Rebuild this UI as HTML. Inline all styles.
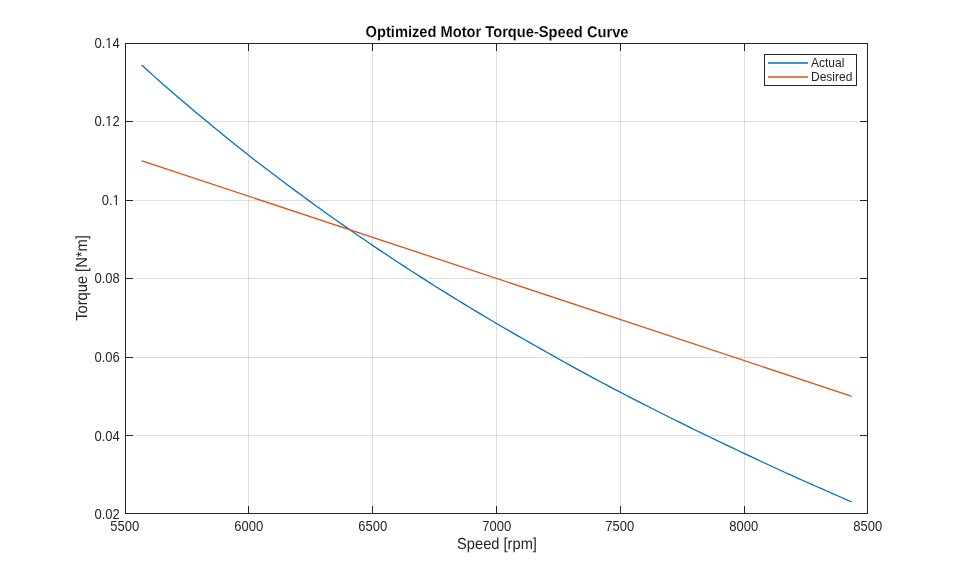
<!DOCTYPE html>
<html><head><meta charset="utf-8"><title>Optimized Motor Torque-Speed Curve</title>
<style>
html,body{margin:0;padding:0;background:#fff;}
body{width:959px;height:577px;overflow:hidden;font-family:"Liberation Sans",sans-serif;}
svg{display:block;}
text{font-family:"Liberation Sans",sans-serif;fill:#262626;}
.tk{font-size:14px;}
.lb{font-size:14.67px;}
.lg{font-size:12px;}
.tt{font-size:14.67px;font-weight:bold;fill:#000;stroke:#fff;stroke-width:0.1px;}
</style></head><body>
<svg width="959" height="577" viewBox="0 0 959 577" style="will-change:transform">
<rect x="0" y="0" width="959" height="577" fill="#ffffff"/>
<g stroke="#262626" stroke-opacity="0.15" stroke-width="1" shape-rendering="crispEdges">
<line x1="248.5" y1="44" x2="248.5" y2="513"/>
<line x1="372.5" y1="44" x2="372.5" y2="513"/>
<line x1="496.5" y1="44" x2="496.5" y2="513"/>
<line x1="620.5" y1="44" x2="620.5" y2="513"/>
<line x1="744.5" y1="44" x2="744.5" y2="513"/>
<line x1="126" y1="121.5" x2="867" y2="121.5"/>
<line x1="126" y1="200.5" x2="867" y2="200.5"/>
<line x1="126" y1="278.5" x2="867" y2="278.5"/>
<line x1="126" y1="357.5" x2="867" y2="357.5"/>
<line x1="126" y1="435.5" x2="867" y2="435.5"/>
</g>
<path d="M142.00,65.32 L147.96,70.78 L153.92,76.14 L159.88,81.44 L165.84,86.67 L171.80,91.85 L177.76,96.98 L183.72,102.07 L189.68,107.12 L195.64,112.13 L201.60,117.11 L207.56,122.07 L213.52,126.99 L219.48,131.87 L225.44,136.72 L231.39,141.54 L237.35,146.32 L243.31,151.07 L249.27,155.77 L255.23,160.40 L261.19,164.99 L267.15,169.56 L273.11,174.09 L279.07,178.58 L285.03,183.05 L290.99,187.48 L296.95,191.88 L302.91,196.26 L308.87,200.62 L314.83,204.95 L320.79,209.25 L326.75,213.52 L332.71,217.76 L338.67,221.97 L344.63,226.14 L350.59,230.29 L356.55,234.41 L362.51,238.50 L368.47,242.56 L374.43,246.60 L380.39,250.60 L386.35,254.58 L392.31,258.53 L398.27,262.45 L404.23,266.35 L410.18,270.22 L416.14,274.06 L422.10,277.88 L428.06,281.67 L434.02,285.44 L439.98,289.18 L445.94,292.89 L451.90,296.58 L457.86,300.25 L463.82,303.89 L469.78,307.50 L475.74,311.10 L481.70,314.67 L487.66,318.22 L493.62,321.74 L499.58,325.24 L505.54,328.72 L511.50,332.18 L517.46,335.61 L523.42,339.03 L529.38,342.42 L535.34,345.79 L541.30,349.15 L547.26,352.53 L553.22,355.88 L559.18,359.22 L565.14,362.54 L571.10,365.83 L577.06,369.11 L583.02,372.37 L588.97,375.61 L594.93,378.83 L600.89,382.03 L606.85,385.18 L612.81,388.31 L618.77,391.42 L624.73,394.51 L630.69,397.59 L636.65,400.66 L642.61,403.70 L648.57,406.73 L654.53,409.75 L660.49,412.75 L666.45,415.74 L672.41,418.71 L678.37,421.67 L684.33,424.61 L690.29,427.55 L696.25,430.46 L702.21,433.37 L708.17,436.26 L714.13,439.14 L720.09,442.00 L726.05,444.86 L732.01,447.70 L737.97,450.53 L743.93,453.35 L749.89,456.15 L755.85,458.94 L761.81,461.72 L767.76,464.49 L773.72,467.25 L779.68,470.00 L785.64,472.73 L791.60,475.40 L797.56,478.06 L803.52,480.72 L809.48,483.36 L815.44,486.00 L821.40,488.63 L827.36,491.26 L833.32,493.89 L839.28,496.51 L845.24,499.13 L851.20,501.74" fill="none" stroke="#0072bd" stroke-width="1.3" stroke-linejoin="round" stroke-linecap="round"/>
<path d="M142,160.8 L851.2,396.07" fill="none" stroke="#d95319" stroke-width="1.3" stroke-linecap="round"/>
<g stroke="#262626" stroke-width="1" fill="none" shape-rendering="crispEdges">
<rect x="125.5" y="43.5" width="742" height="470"/>
<line x1="248.5" y1="513" x2="248.5" y2="506"/><line x1="248.5" y1="44" x2="248.5" y2="51"/>
<line x1="372.5" y1="513" x2="372.5" y2="506"/><line x1="372.5" y1="44" x2="372.5" y2="51"/>
<line x1="496.5" y1="513" x2="496.5" y2="506"/><line x1="496.5" y1="44" x2="496.5" y2="51"/>
<line x1="620.5" y1="513" x2="620.5" y2="506"/><line x1="620.5" y1="44" x2="620.5" y2="51"/>
<line x1="744.5" y1="513" x2="744.5" y2="506"/><line x1="744.5" y1="44" x2="744.5" y2="51"/>
<line x1="126" y1="121.5" x2="133" y2="121.5"/><line x1="867" y1="121.5" x2="860" y2="121.5"/>
<line x1="126" y1="200.5" x2="133" y2="200.5"/><line x1="867" y1="200.5" x2="860" y2="200.5"/>
<line x1="126" y1="278.5" x2="133" y2="278.5"/><line x1="867" y1="278.5" x2="860" y2="278.5"/>
<line x1="126" y1="357.5" x2="133" y2="357.5"/><line x1="867" y1="357.5" x2="860" y2="357.5"/>
<line x1="126" y1="435.5" x2="133" y2="435.5"/><line x1="867" y1="435.5" x2="860" y2="435.5"/>
</g>
<text class="tk" transform="translate(124.8,531) scale(0.93,1)" text-anchor="middle">5500</text>
<text class="tk" transform="translate(248.8,531) scale(0.93,1)" text-anchor="middle">6000</text>
<text class="tk" transform="translate(372.8,531) scale(0.93,1)" text-anchor="middle">6500</text>
<text class="tk" transform="translate(496.8,531) scale(0.93,1)" text-anchor="middle">7000</text>
<text class="tk" transform="translate(619.8,531) scale(0.93,1)" text-anchor="middle">7500</text>
<text class="tk" transform="translate(743.8,531) scale(0.93,1)" text-anchor="middle">8000</text>
<text class="tk" transform="translate(867.8,531) scale(0.93,1)" text-anchor="middle">8500</text>
<text class="tk" transform="translate(119.8,48) scale(0.93,1)" text-anchor="end">0.14</text>
<text class="tk" transform="translate(119.8,126) scale(0.93,1)" text-anchor="end">0.12</text>
<text class="tk" transform="translate(119.8,205) scale(0.93,1)" text-anchor="end">0.1</text>
<text class="tk" transform="translate(119.8,283) scale(0.93,1)" text-anchor="end">0.08</text>
<text class="tk" transform="translate(119.8,362) scale(0.93,1)" text-anchor="end">0.06</text>
<text class="tk" transform="translate(119.8,441) scale(0.93,1)" text-anchor="end">0.04</text>
<text class="tk" transform="translate(119.8,519) scale(0.93,1)" text-anchor="end">0.02</text>
<rect x="105.82" y="46.9" width="2.75" height="1.3" fill="#fff"/><rect x="109.77" y="46.9" width="2.6" height="1.3" fill="#fff"/>
<rect x="105.82" y="124.9" width="2.75" height="1.3" fill="#fff"/><rect x="109.77" y="124.9" width="2.6" height="1.3" fill="#fff"/>
<rect x="113.06" y="203.9" width="2.75" height="1.3" fill="#fff"/><rect x="117.01" y="203.9" width="2.6" height="1.3" fill="#fff"/>
<text class="lb" transform="translate(497,548.9) rotate(0.03) scale(1,1.09)" text-anchor="middle">Speed [rpm]</text>
<text class="lb" transform="translate(87.0,278) rotate(-89.97) scale(1,1.09)" text-anchor="middle">Torque [N*m]</text>
<text class="tt" transform="translate(497,37.1) rotate(0.03) scale(1,1.07)" text-anchor="middle">Optimized Motor Torque-Speed Curve</text>
<rect x="764.5" y="54.5" width="92" height="31" fill="#fff" stroke="#262626" stroke-width="1" shape-rendering="crispEdges"/>
<line x1="768" y1="63" x2="808" y2="63" stroke="#0072bd" stroke-width="1.28"/>
<line x1="768" y1="77" x2="808" y2="77" stroke="#d95319" stroke-width="1.28"/>
<text class="lg" x="811" y="66.6">Actual</text>
<text class="lg" x="811" y="80.6">Desired</text>
</svg></body></html>
